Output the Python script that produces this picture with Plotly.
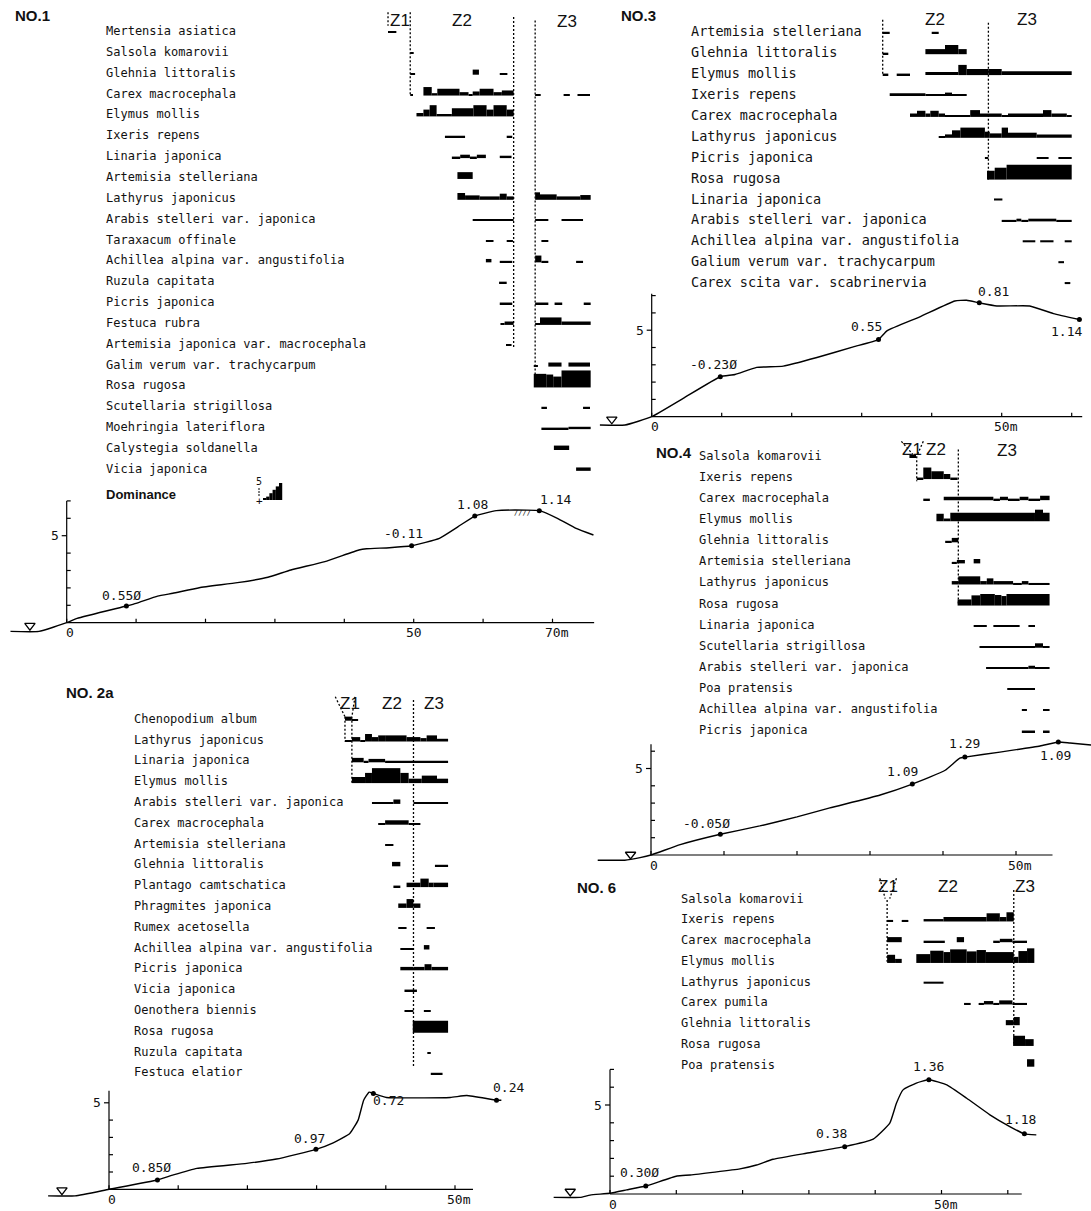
import plotly.graph_objects as go

W, H = 1091, 1211
P = 0.45          # "+" cover class, drawn as a hairline
LEVEL_PX = 3.4    # pixel height of one dominance class

# ---------------- NO.1 ----------------
NO1_SPECIES = ["Mertensia asiatica", "Salsola komarovii", "Glehnia littoralis", "Carex macrocephala",
               "Elymus mollis", "Ixeris repens", "Linaria japonica", "Artemisia stelleriana",
               "Lathyrus japonicus", "Arabis stelleri var. japonica", "Taraxacum offinale",
               "Achillea alpina var. angustifolia", "Ruzula capitata", "Picris japonica", "Festuca rubra",
               "Artemisia japonica var. macrocephala", "Galim verum var. trachycarpum", "Rosa rugosa",
               "Scutellaria strigillosa", "Moehringia lateriflora", "Calystegia soldanella", "Vicia japonica"]
NO1_BARS = [
    [(46.3, 47.5, P)],
    [(49.5, 50.0, P)],
    [(49.5, 50.2, P), (58.5, 59.4, 1.5), (62.4, 63.5, P)],
    [(49.5, 49.9, P), (51.4, 52.6, 2.5), (52.6, 53.4, 0.7), (53.4, 56.6, 2), (56.6, 57.9, 1), (57.9, 58.5, P),
     (58.5, 59.5, 1.2), (59.5, 61.5, 2), (61.5, 62.7, 1), (62.7, 64.4, 1.5), (67.5, 68.3, P), (71.6, 72.5, P),
     (73.6, 75.4, P)],
    [(50.4, 51.4, 1), (51.4, 52.3, 2), (52.3, 53.3, 3.3), (53.3, 55.5, 0.7), (55.5, 58.6, 2.4), (58.6, 60.5, 3.3),
     (60.5, 61.5, 2), (61.5, 63.4, 3.3), (63.4, 64.4, 2)],
    [(54.5, 57.4, P), (63.4, 64.2, P)],
    [(55.5, 56.7, P), (56.7, 58.1, 1), (58.1, 59.1, P), (59.1, 60.4, 1), (62.4, 64.1, 0.7)],
    [(56.3, 58.5, 2)],
    [(56.3, 57.4, 2), (57.4, 59.5, 1.3), (59.5, 62.4, 1), (62.4, 63.4, 1.8), (63.4, 64.4, 1), (67.5, 68.2, 2.2),
     (68.2, 70.6, 1.6), (70.6, 74.0, 1), (74.0, 75.5, 1.4)],
    [(58.5, 64.4, P), (67.5, 69.4, P), (71.3, 74.4, P)],
    [(60.4, 61.5, P), (63.4, 64.3, P), (68.4, 69.4, P)],
    [(60.4, 61.2, 1), (62.4, 64.2, P), (67.5, 68.4, 2), (68.4, 69.4, P), (73.4, 74.4, P)],
    [(62.3, 63.4, P)],
    [(62.4, 64.2, P), (67.5, 69.4, P), (70.3, 71.4, P), (74.5, 75.5, P)],
    [(62.5, 63.1, P), (63.1, 64.4, 1), (67.5, 68.2, P), (68.2, 71.3, 2.2), (71.3, 75.5, 1)],
    [(63.3, 64.1, P)],
    [(67.3, 67.9, P), (69.4, 71.3, 1.2), (72.3, 75.4, 1.2)],
    [(67.3, 69.1, 4), (69.1, 70.1, 3.8), (70.1, 71.3, 3.2), (71.3, 75.5, 5)],
    [(68.4, 69.2, P), (74.4, 75.4, P)],
    [(68.4, 72.3, P), (72.3, 75.5, 0.7)],
    [(70.2, 72.4, 1.3)],
    [(73.4, 75.5, 1)],
]
NO1_PROFILE_X = [-8.1, -4.0, 0, 1.5, 8.6, 10.0, 13.1, 15.3, 19.1, 24.6, 29.0, 32.3, 37.2, 42.1, 43.2, 46.5,
                 49.7, 53.7, 56.4, 58.8, 61.9, 66.3, 68.1, 70.7, 73.4, 75.9]
NO1_PROFILE_Z = [-0.5, -0.5, 0, 0.25, 0.96, 1.11, 1.53, 1.69, 2.01, 2.30, 2.61, 3.03, 3.51, 4.18, 4.25, 4.31,
                 4.42, 4.85, 5.52, 6.13, 6.44, 6.47, 6.44, 6.0, 5.42, 5.04]
NO1_POINT_X = [8.6, 49.7, 58.8, 68.1]
NO1_POINT_Z = [0.96, 4.42, 6.13, 6.44]
NO1_POINT_LABELS = ["0.55Ø", "-0.11", "1.08", "1.14"]
NO1_X_TICKS = [0, 10, 20, 30, 40, 50, 60, 70]
NO1_X_TICK_LABELS = {0: "0", 50: "50", 70: "70m"}
NO1_SEA_MARK = -5.3

# ---------------- NO.3 ----------------
NO3_SPECIES = ["Artemisia stelleriana", "Glehnia littoralis", "Elymus mollis", "Ixeris repens",
               "Carex macrocephala", "Lathyrus japonicus", "Picris japonica", "Rosa rugosa", "Linaria japonica",
               "Arabis stelleri var. japonica", "Achillea alpina var. angustifolia",
               "Galium verum var. trachycarpum", "Carex scita var. scabrinervia"]
NO3_BARS = [
    [(33.0, 34.0, P), (40.0, 41.0, P)],
    [(33.0, 33.8, P), (39.1, 41.9, 1.5), (41.9, 43.8, 2.7), (43.8, 45.0, 1.5)],
    [(33.0, 33.8, P), (35.0, 36.9, P), (39.1, 43.8, 0.9), (43.8, 45.0, 3), (45.0, 48.1, 1.8), (48.1, 50.0, 1.8),
     (50.0, 60.0, 1.1)],
    [(34.0, 39.1, 0.8), (39.1, 41.9, P), (41.9, 42.9, 1), (42.9, 45.0, P)],
    [(36.9, 37.9, 1), (37.9, 39.1, 1.8), (39.1, 39.8, 1), (39.8, 41.0, 1.8), (41.0, 41.9, 1), (41.9, 45.5, P),
     (45.5, 46.9, 2), (46.9, 50.0, 1), (50.0, 50.9, P), (50.9, 55.9, 1), (55.9, 57.1, 2), (57.1, 59.3, 1),
     (59.3, 60.0, P)],
    [(41.0, 41.9, P), (41.9, 42.9, 1), (42.9, 44.1, 2.2), (44.1, 47.6, 3), (47.6, 48.3, 1.8), (48.3, 50.0, 1.3),
     (50.0, 50.9, 3), (50.9, 55.0, 1.5), (55.0, 60.0, 1)],
    [(47.6, 48.1, P), (55.0, 56.7, P), (58.1, 60.0, P)],
    [(47.9, 49.0, 2.6), (49.0, 50.7, 3.5), (50.7, 60.0, 4.4)],
    [(48.9, 50.1, 0.6)],
    [(50.0, 52.1, P), (52.1, 52.8, 0.8), (52.8, 53.8, P), (53.8, 57.8, 0.8), (57.8, 60.0, P)],
    [(53.0, 54.8, 0.6), (55.5, 57.4, 0.6), (59.0, 60.0, 0.6)],
    [(58.1, 58.9, 0.6)],
    [(59.0, 59.8, 0.6)],
]
NO3_PROFILE_X = [-7.4, -3.8, 0, 4.5, 9.8, 11.9, 15.0, 18.8, 23.6, 28.8, 32.4, 33.6, 38.3, 43.3, 45.0, 46.8,
                 49.3, 54.0, 57.4, 61.1]
NO3_PROFILE_Z = [-0.48, -0.48, 0, 1.06, 2.31, 2.44, 2.85, 2.92, 3.42, 4.04, 4.46, 4.96, 5.77, 6.69, 6.73, 6.58,
                 6.4, 6.4, 5.96, 5.62]
NO3_POINT_X = [9.8, 32.4, 46.8, 61.1]
NO3_POINT_Z = [2.31, 4.46, 6.58, 5.62]
NO3_POINT_LABELS = ["-0.23Ø", "0.55", "0.81", "1.14"]
NO3_X_TICKS = [0, 10, 20, 30, 40, 50, 60]
NO3_X_TICK_LABELS = {0: "0", 50: "50m"}
NO3_SEA_MARK = -5.7

# ---------------- NO.4 ----------------
NO4_SPECIES = ["Salsola komarovii", "Ixeris repens", "Carex macrocephala", "Elymus mollis", "Glehnia littoralis",
               "Artemisia stelleriana", "Lathyrus japonicus", "Rosa rugosa", "Linaria japonica",
               "Scutellaria strigillosa", "Arabis stelleri var. japonica", "Poa pratensis",
               "Achillea alpina var. angustifolia", "Picris japonica"]
NO4_BARS = [
    [(35.4, 36.3, 1)],
    [(36.4, 37.3, P), (37.3, 38.4, 3.4), (38.4, 40.1, 2.3), (40.1, 41.0, 1.5), (41.0, 42.0, P)],
    [(37.3, 38.2, P), (40.1, 46.9, 1), (46.9, 47.8, P), (47.8, 48.9, 1), (48.9, 50.5, P), (50.5, 51.7, 1),
     (51.7, 53.3, P), (53.3, 54.6, 1.3)],
    [(39.1, 40.1, 2.2), (40.1, 41.0, 0.8), (41.0, 52.6, 2.5), (52.6, 53.7, 3.4), (53.7, 54.6, 2.5)],
    [(40.3, 41.2, P), (41.2, 42.1, 1.3)],
    [(41.2, 41.9, P), (41.9, 43.0, 1), (44.2, 45.1, 1.3)],
    [(41.2, 42.1, 1), (42.1, 45.1, 2.4), (45.1, 46.0, 1), (46.0, 46.9, 1.8), (46.9, 49.6, 1), (49.6, 50.8, P),
     (50.8, 51.7, 1), (51.7, 54.6, P)],
    [(42.0, 43.9, 1.8), (43.9, 45.1, 3), (45.1, 47.1, 3.4), (47.1, 48.0, 3.1), (48.0, 48.7, 2.8),
     (48.7, 54.6, 3.4)],
    [(44.2, 46.0, P), (46.9, 50.5, P), (51.7, 52.6, P)],
    [(45.0, 52.6, P), (52.6, 53.7, 1.3), (53.7, 54.6, P)],
    [(45.9, 51.7, P), (51.7, 52.6, 0.9), (52.6, 54.6, P)],
    [(48.8, 52.6, P)],
    [(50.8, 51.5, P), (53.7, 54.6, P)],
    [(50.8, 52.6, P), (53.7, 54.6, P)],
]
NO4_PROFILE_X = [-7.3, -3.6, -1.5, 0, 4.0, 9.5, 14.9, 20.0, 24.5, 31.4, 35.8, 40.3, 42.3, 43.0, 47.8, 53.3,
                 55.8, 57.4, 60.3]
NO4_PROFILE_Z = [-0.3, -0.3, -0.15, 0, 0.6, 1.2, 1.68, 2.2, 2.72, 3.47, 4.1, 4.9, 5.6, 5.66, 5.95, 6.3, 6.53,
                 6.47, 6.36]
NO4_POINT_X = [9.5, 35.8, 43.0, 55.8]
NO4_POINT_Z = [1.2, 4.1, 5.66, 6.53]
NO4_POINT_LABELS = ["-0.05Ø", "1.09", "1.29", "1.09"]
NO4_X_TICKS = [0, 10, 20, 30, 40, 50]
NO4_X_TICK_LABELS = {0: "0", 50: "50m"}
NO4_SEA_MARK = -2.8

# ---------------- NO.2a ----------------
NO2_SPECIES = ["Chenopodium album", "Lathyrus japonicus", "Linaria japonica", "Elymus mollis",
               "Arabis stelleri var. japonica", "Carex macrocephala", "Artemisia stelleriana",
               "Glehnia littoralis", "Plantago camtschatica", "Phragmites japonica", "Rumex acetosella",
               "Achillea alpina var. angustifolia", "Picris japonica", "Vicia japonica", "Oenothera biennis",
               "Rosa rugosa", "Ruzula capitata", "Festuca elatior"]
NO2_BARS = [
    [(34.1, 35.1, 1.2), (35.1, 36.0, P)],
    [(34.1, 35.1, P), (35.1, 36.3, 1.3), (36.3, 37.0, P), (37.0, 38.0, 2.2), (38.0, 38.9, 1.3), (38.9, 39.9, 1.8),
     (39.9, 43.0, 1.8), (43.0, 45.0, 1.3), (45.0, 45.9, 1), (45.9, 47.4, 1.8), (47.4, 49.0, 0.8)],
    [(35.1, 36.8, 1.3), (36.8, 37.5, P), (37.5, 39.9, 1), (39.9, 49.0, P)],
    [(35.1, 37.0, 1.8), (37.0, 38.0, 3), (38.0, 42.1, 4.4), (42.1, 43.3, 3), (43.3, 45.2, 1.3), (45.2, 47.4, 2.2),
     (47.4, 49.0, 1.3)],
    [(38.0, 41.1, P), (41.1, 42.1, 1.3), (44.0, 49.0, P)],
    [(38.9, 39.9, P), (39.9, 43.3, 1.3), (43.3, 45.0, P)],
    [(39.9, 41.1, P)],
    [(40.9, 42.1, 1.3), (47.1, 49.0, P)],
    [(41.1, 42.1, P), (43.0, 45.0, 1.3), (45.0, 46.2, 2.5), (46.2, 46.9, 1.3), (46.9, 49.0, 1.3)],
    [(41.8, 43.0, 1.3), (43.0, 44.0, 2.6), (44.0, 45.0, 1.3)],
    [(41.8, 43.0, P), (45.9, 47.1, P)],
    [(42.1, 44.0, P), (45.5, 46.3, 1.3)],
    [(42.1, 44.0, 1), (44.0, 45.6, 1), (45.6, 46.6, 1.8), (46.6, 49.0, 1)],
    [(42.7, 44.5, P)],
    [(42.7, 44.0, P), (45.5, 46.5, P)],
    [(43.9, 49.0, 3.5)],
    [(46.0, 46.5, P)],
    [(46.5, 48.2, P)],
]
NO2_PROFILE_X = [-8.8, -4.9, 0, 7.0, 9.3, 12.7, 19.9, 24.2, 29.9, 32.4, 34.8, 36.0, 36.8, 37.6, 38.2, 40.1,
                 49.3, 51.7, 56.0, 56.7]
NO2_PROFILE_Z = [-0.38, -0.38, 0, 0.54, 0.83, 1.21, 1.5, 1.75, 2.31, 2.69, 3.23, 4.0, 5.15, 5.62, 5.54, 5.31,
                 5.31, 5.42, 5.15, 5.15]
NO2_POINT_X = [7.0, 29.9, 38.2, 56.0]
NO2_POINT_Z = [0.54, 2.31, 5.54, 5.15]
NO2_POINT_LABELS = ["0.85Ø", "0.97", "0.72", "0.24"]
NO2_X_TICKS = [0, 10, 20, 30, 40, 50]
NO2_X_TICK_LABELS = {0: "0", 50: "50m"}
NO2_SEA_MARK = -6.8

# ---------------- NO.6 ----------------
NO6_SPECIES = ["Salsola komarovii", "Ixeris repens", "Carex macrocephala", "Elymus mollis", "Lathyrus japonicus",
               "Carex pumila", "Glehnia littoralis", "Rosa rugosa", "Poa pratensis"]
NO6_BARS = [
    [],
    [(41.8, 42.7, P), (44.0, 45.0, P), (47.3, 50.3, 0.7), (50.3, 56.8, 1.3), (56.8, 58.8, 2.4), (58.8, 59.8, 1.3),
     (59.8, 60.9, 2.7)],
    [(41.8, 44.0, 1.5), (47.3, 50.5, P), (52.3, 53.4, 1.5), (57.8, 58.8, P), (58.8, 60.7, 1), (60.7, 62.9, P)],
    [(41.8, 43.0, 2.4), (43.0, 44.0, 1.2), (46.2, 48.3, 2.6), (48.3, 50.3, 3.6), (50.3, 51.3, 3.2),
     (51.3, 53.8, 4), (53.8, 55.3, 3.4), (55.3, 56.7, 3.8), (56.7, 60.9, 3.2), (60.9, 61.6, 1.8),
     (61.6, 62.9, 3.5), (62.9, 64.0, 4.3)],
    [(47.3, 50.3, 0.6)],
    [(53.4, 54.4, P), (55.6, 56.4, P), (56.4, 57.8, 1), (57.8, 58.7, P), (58.7, 60.7, 1.2), (60.7, 62.9, P)],
    [(59.7, 60.9, 1.5), (60.9, 61.8, 2.4)],
    [(60.8, 62.6, 3), (62.6, 63.9, 2)],
    [(62.9, 64.0, 2.2)],
]
NO6_PROFILE_X = [-8.5, -4.5, -3.0, 0, 2.5, 5.4, 10.1, 12.1, 19.6, 22.1, 24.6, 29.6, 35.4, 39.7, 42.2, 43.2,
                 44.2, 46.2, 48.1, 50.8, 53.8, 57.3, 60.3, 62.5, 64.3]
NO6_PROFILE_Z = [-0.19, -0.19, -0.06, 0.04, 0.23, 0.45, 1.01, 1.07, 1.41, 1.63, 1.95, 2.29, 2.66, 3.08, 3.98,
                 5.1, 5.85, 6.23, 6.42, 6.13, 5.38, 4.45, 3.79, 3.38, 3.32]
NO6_POINT_X = [5.4, 35.4, 48.1, 62.5]
NO6_POINT_Z = [0.45, 2.66, 6.42, 3.38]
NO6_POINT_LABELS = ["0.30Ø", "0.38", "1.36", "1.18"]
NO6_X_TICKS = [0, 10, 20, 30, 40, 50, 60]
NO6_X_TICK_LABELS = {0: "0", 50: "50m"}
NO6_SEA_MARK = -6.0

# dominance key: "+" then classes 1..5
DOMINANCE_SCALE = [P, 1, 2, 3, 4, 5]

# ---------------- panel geometry (pixels on the page) ----------------
LAYOUTS = [
    dict(px0=66.7, sx=6.94, xpx=(0, 610), py0=622.7, sz=17.4, zpx=(470, 660), row0=33.0, row_px=20.85,
         rpx=(0, 520), label_px=105, label_size=12, title="NO.1", title_px=(14, 15), xend=76.0, ztop=7.0,
         lab_off=[(-5, 11), (-8, 12), (-2, 12), (16, 11)],
         zones=[(46.3, -1.0, -0.35), (49.5, -1.0, 3.0), (64.4, -0.77, 15.1), (67.5, -0.6, 16.6)],
         diags=[], zlab=[("Z1", 48.0, -0.62), ("Z2", 57.0, -0.62), ("Z3", 72.1, -0.53)]),
    dict(px0=651.7, sx=7.0, xpx=(590, 1091), py0=416.7, sz=17.3, zpx=(280, 445), row0=33.3, row_px=20.9,
         rpx=(0, 300), label_px=690, label_size=13.5, title="NO.3", title_px=(620, 15), xend=61.5, ztop=7.1,
         lab_off=[(-7, 12), (-12, 13), (14, 11), (-13, -12)],
         zones=[(33.0, -0.65, 2.0), (48.1, -0.5, 7.0)],
         diags=[], zlab=[("Z2", 40.5, -0.64), ("Z3", 53.6, -0.64)]),
    dict(px0=651, sx=7.3, xpx=(590, 1091), py0=855, sz=17.3, zpx=(730, 880), row0=458, row_px=21.08,
         rpx=(430, 745), label_px=698, label_size=12, title="NO.4", title_px=(655, 452), xend=55.0, ztop=6.4,
         lab_off=[(-14, 11), (-10, 13), (0, 14), (-3, -13)],
         zones=[(36.4, -0.08, 1.1), (42.1, -0.4, 7.0)],
         diags=[(34.3, -0.79, 35.9, -0.16), (37.3, -0.79, 36.5, -0.16)],
         zlab=[("Z1", 35.7, -0.4), ("Z2", 39.1, -0.4), ("Z3", 48.8, -0.35)]),
    dict(px0=109, sx=6.92, xpx=(0, 560), py0=1189.3, sz=17.3, zpx=(1060, 1211), row0=720.7, row_px=20.8,
         rpx=(670, 1095), label_px=133, label_size=12, title="NO. 2a", title_px=(65, 692), xend=52.6, ztop=5.7,
         lab_off=[(-6, 12), (-6, 11), (15, -7), (12, 13)],
         zones=[(34.1, -0.19, 1.0), (35.1, -0.19, 3.0), (44.0, -1.0, 16.6)],
         diags=[(32.7, -1.15, 34.1, -0.19), (35.55, -1.15, 35.1, -0.19)],
         zlab=[("Z1", 34.8, -0.83), ("Z2", 40.85, -0.83), ("Z3", 46.9, -0.83)]),
    dict(px0=610, sx=6.63, xpx=(530, 1091), py0=1194, sz=17.8, zpx=(1055, 1211), row0=900.7, row_px=20.75,
         rpx=(860, 1080), label_px=680, label_size=12, title="NO. 6", title_px=(576, 887), xend=62.1, ztop=7.0,
         lab_off=[(-6, 13), (-13, 13), (0, 13), (-4, 14)],
         zones=[(41.8, -0.03, 2.94), (60.9, -0.51, 6.88)],
         diags=[(40.7, -1.08, 41.5, -0.1), (43.2, -1.08, 42.2, -0.1)],
         zlab=[("Z1", 42.0, -0.67), ("Z2", 51.0, -0.67), ("Z3", 62.6, -0.67)]),
]

PANEL_DATA = [
    (NO1_SPECIES, NO1_BARS, NO1_PROFILE_X, NO1_PROFILE_Z, NO1_POINT_X, NO1_POINT_Z, NO1_POINT_LABELS,
     NO1_X_TICKS, NO1_X_TICK_LABELS, NO1_SEA_MARK),
    (NO3_SPECIES, NO3_BARS, NO3_PROFILE_X, NO3_PROFILE_Z, NO3_POINT_X, NO3_POINT_Z, NO3_POINT_LABELS,
     NO3_X_TICKS, NO3_X_TICK_LABELS, NO3_SEA_MARK),
    (NO4_SPECIES, NO4_BARS, NO4_PROFILE_X, NO4_PROFILE_Z, NO4_POINT_X, NO4_POINT_Z, NO4_POINT_LABELS,
     NO4_X_TICKS, NO4_X_TICK_LABELS, NO4_SEA_MARK),
    (NO2_SPECIES, NO2_BARS, NO2_PROFILE_X, NO2_PROFILE_Z, NO2_POINT_X, NO2_POINT_Z, NO2_POINT_LABELS,
     NO2_X_TICKS, NO2_X_TICK_LABELS, NO2_SEA_MARK),
    (NO6_SPECIES, NO6_BARS, NO6_PROFILE_X, NO6_PROFILE_Z, NO6_POINT_X, NO6_POINT_Z, NO6_POINT_LABELS,
     NO6_X_TICKS, NO6_X_TICK_LABELS, NO6_SEA_MARK),
]

MONO = "DejaVu Sans Mono"
INK = "#111111"


def xref(n):
    return "x" if n == 1 else f"x{n}"


def yref(n):
    return "y" if n == 1 else f"y{n}"


def xkey(n):
    return "xaxis" if n == 1 else f"xaxis{n}"


def ykey(n):
    return "yaxis" if n == 1 else f"yaxis{n}"


fig = go.Figure()
annotations = []
shapes = []
axes = {}


def text(t, x, y, xr, yr, size, family=MONO, xanchor="center", yanchor="middle", dx=0, dy=0, color=INK):
    annotations.append(dict(text=t, x=x, y=y, xref=xr, yref=yr, showarrow=False, xanchor=xanchor,
                            yanchor=yanchor, xshift=dx, yshift=dy, borderpad=0,
                            font=dict(family=family, size=size, color=color)))


for k, (L, D) in enumerate(zip(LAYOUTS, PANEL_DATA)):
    species, bars, prof_x, prof_z, pt_x, pt_z, pt_lab, x_ticks, x_tick_lab, sea_mark = D
    nx, ns, npf = k + 1, 2 * k + 1, 2 * k + 2
    xr, ysr, ypr = xref(nx), yref(ns), yref(npf)

    # axes: metres along the transect, elevation, and species rows (in dominance units)
    xl, xrgt = L["xpx"]
    axes[xkey(nx)] = dict(domain=[xl / W, xrgt / W],
                          range=[(xl - L["px0"]) / L["sx"], (xrgt - L["px0"]) / L["sx"]],
                          visible=False, fixedrange=True, anchor=ypr)
    zt, zb = L["zpx"]
    axes[ykey(npf)] = dict(domain=[1 - zb / H, 1 - zt / H],
                           range=[(L["py0"] - zb) / L["sz"], (L["py0"] - zt) / L["sz"]],
                           visible=False, fixedrange=True, anchor=xr)
    rt, rb = L["rpx"]
    axes[ykey(ns)] = dict(domain=[1 - rb / H, 1 - rt / H],
                          range=[(L["row0"] - rb) / LEVEL_PX, (L["row0"] - rt) / LEVEL_PX],
                          visible=False, fixedrange=True, anchor=xr)
    rowu = L["row_px"] / LEVEL_PX

    # dominance bars
    cx, cw, cb, ch = [], [], [], []
    for r, segs in enumerate(bars):
        for (a, b, lev) in segs:
            cx.append((a + b) / 2)
            cw.append(b - a)
            cb.append(-r * rowu)
            ch.append(lev)
    if k == 0:
        # dominance key drawn next to the "Dominance" caption
        key_base = (L["row0"] - 500) / LEVEL_PX
        x0 = (263 - L["px0"]) / L["sx"]
        step = 3.2 / L["sx"]
        for i, lev in enumerate(DOMINANCE_SCALE):
            cx.append(x0 + step * (i + 0.5))
            cw.append(step * 1.02)
            cb.append(key_base)
            ch.append(lev)
    fig.add_trace(go.Bar(x=cx, y=ch, base=cb, width=cw, xaxis=xr, yaxis=ysr,
                         marker=dict(color="black", line=dict(width=0)), hoverinfo="skip",
                         showlegend=False))

    # zone boundaries (dotted)
    zx, zy = [], []
    for (x, r1, r2) in L["zones"]:
        zx += [x, x, None]
        zy += [-r1 * rowu, -r2 * rowu, None]
    for (x1, r1, x2, r2) in L["diags"]:
        zx += [x1, x2, None]
        zy += [-r1 * rowu, -r2 * rowu, None]
    fig.add_trace(go.Scatter(x=zx, y=zy, mode="lines", xaxis=xr, yaxis=ysr, hoverinfo="skip",
                             line=dict(color="black", width=1.3, dash="2px,2px"), showlegend=False))

    # species names and zone names
    for r, name in enumerate(species):
        text(name, L["label_px"] / W, -r * rowu + 2 / LEVEL_PX, "paper", ysr, L["label_size"], xanchor="left")
    for (lab, x, r) in L["zlab"]:
        text(lab, x, -r * rowu, xr, ysr, 17, family="Liberation Sans Narrow, Liberation Sans")
    text("<b>" + L["title"] + "</b>", L["title_px"][0] / W, 1 - L["title_px"][1] / H, "paper", "paper", 15,
         family="Liberation Sans, Arial", xanchor="left")

    # ground profile
    fig.add_trace(go.Scatter(x=prof_x, y=prof_z, mode="lines", xaxis=xr, yaxis=ypr, hoverinfo="skip",
                             line=dict(color="black", width=1.4, shape="spline", smoothing=0.4),
                             showlegend=False))
    fig.add_trace(go.Scatter(x=pt_x, y=pt_z, mode="markers", xaxis=xr, yaxis=ypr, hoverinfo="skip",
                             marker=dict(color="black", size=5), showlegend=False))
    for (x, z, lab, (dx, dy)) in zip(pt_x, pt_z, pt_lab, L["lab_off"]):
        text(lab, x, z, xr, ypr, 13, dx=dx, dy=dy)
    fig.add_trace(go.Scatter(x=[sea_mark], y=[prof_z[0] + 0.33], mode="markers", xaxis=xr, yaxis=ypr,
                             hoverinfo="skip", showlegend=False,
                             marker=dict(symbol="triangle-down-open", size=9, color="black",
                                         line=dict(width=1.3, color="black"))))

    # distance and elevation axes
    ax, az = [0, L["xend"], None], [0, 0, None]
    tick_up = 4 / L["sz"]
    for t in x_ticks:
        ax += [t, t, None]
        az += [0, tick_up, None]
    ax += [0, 0, None]
    az += [0, L["ztop"], None]
    for h in range(1, int(L["ztop"]) + 1):
        if h == 5:
            ax += [-5 / L["sx"], 0, None]
        else:
            ax += [0, 4 / L["sx"], None]
        az += [h, h, None]
    fig.add_trace(go.Scatter(x=ax, y=az, mode="lines", xaxis=xr, yaxis=ypr, hoverinfo="skip",
                             line=dict(color="black", width=1.2), showlegend=False))
    for t, lab in x_tick_lab.items():
        shift = 4 if lab.endswith("m") else 0
        text(lab, t, 0, xr, ypr, 13, dx=shift + (3 if t == 0 else 0), dy=-10)
    text("5", 0, 5, xr, ypr, 13, dx=-12)

    if k == 0:
        text("////", 65.7, 6.3, xr, ypr, 7)
        text("<b>Dominance</b>", 105 / W, 1 - 494 / H, "paper", "paper", 13,
             family="Liberation Sans, Arial", xanchor="left")
        text("5", 259 / W, 1 - 482 / H, "paper", "paper", 10)
        text("+", 259 / W, 1 - 501 / H, "paper", "paper", 11)
        shapes.append(dict(type="line", xref="paper", yref="paper", x0=259 / W, x1=259 / W,
                           y0=1 - 488 / H, y1=1 - 496 / H,
                           line=dict(color="black", width=1, dash="2px,1px")))

fig.update_layout(**axes)
fig.update_layout(width=W, height=H, margin=dict(l=0, r=0, t=0, b=0), paper_bgcolor="white",
                  plot_bgcolor="rgba(0,0,0,0)", showlegend=False, barmode="overlay",
                  annotations=annotations, shapes=shapes)
fig.write_html("out.html", include_plotlyjs=True, config={"displayModeBar": False})
